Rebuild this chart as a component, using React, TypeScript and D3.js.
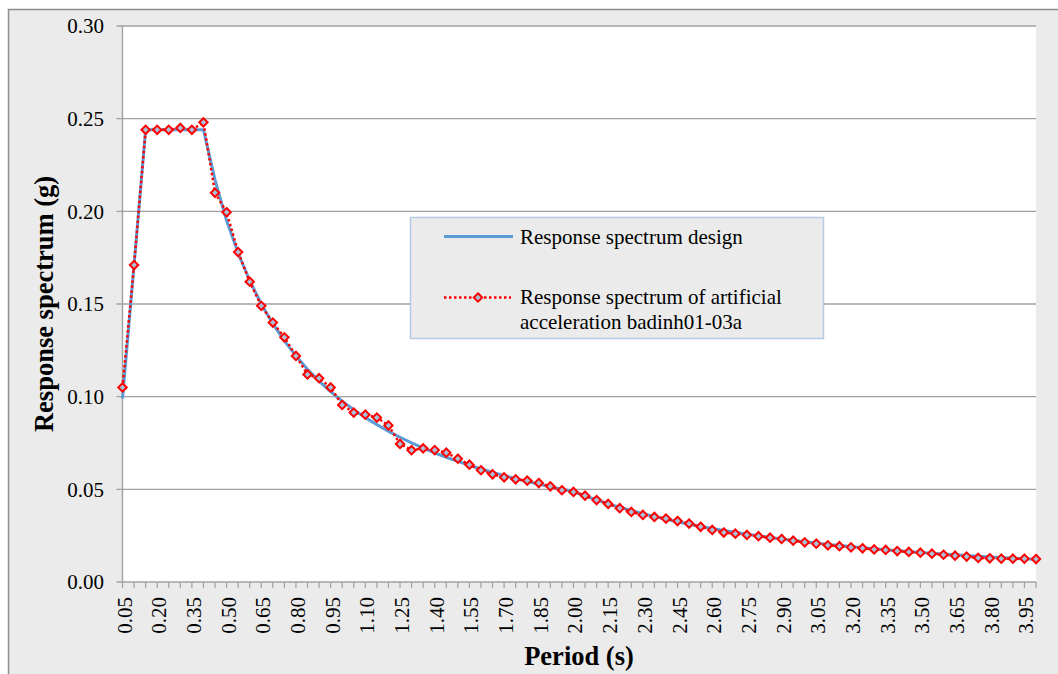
import React from "react";
import * as d3 from "d3";

const periods: string[] = [
  "0.05","0.10","0.15","0.20","0.25","0.30","0.35","0.40","0.45","0.50",
  "0.55","0.60","0.65","0.70","0.75","0.80","0.85","0.90","0.95","1.00",
  "1.05","1.10","1.15","1.20","1.25","1.30","1.35","1.40","1.45","1.50",
  "1.55","1.60","1.65","1.70","1.75","1.80","1.85","1.90","1.95","2.00",
  "2.05","2.10","2.15","2.20","2.25","2.30","2.35","2.40","2.45","2.50",
  "2.55","2.60","2.65","2.70","2.75","2.80","2.85","2.90","2.95","3.00",
  "3.05","3.10","3.15","3.20","3.25","3.30","3.35","3.40","3.45","3.50",
  "3.55","3.60","3.65","3.70","3.75","3.80","3.85","3.90","3.95","4.00",
];

const designSpectrum: number[] = [
  0.099, 0.171, 0.244, 0.244, 0.244, 0.244, 0.244, 0.244, 0.217, 0.195,
  0.1775, 0.1627, 0.150, 0.1394, 0.1301, 0.122, 0.1148, 0.1084, 0.1027, 0.0976,
  0.093, 0.0887, 0.0849, 0.0813, 0.0781, 0.0751, 0.0723, 0.0697, 0.0673, 0.0651,
  0.063, 0.061, 0.0592, 0.0574, 0.0558, 0.0542, 0.0528, 0.0514, 0.0501, 0.0488,
  0.0464, 0.0443, 0.0422, 0.0403, 0.0386, 0.0369, 0.0353, 0.0339, 0.0325, 0.0312,
  0.030, 0.0289, 0.0278, 0.0268, 0.0258, 0.0249, 0.024, 0.0232, 0.0224, 0.0217,
  0.021, 0.0203, 0.0197, 0.0191, 0.0185, 0.0179, 0.0174, 0.0169, 0.0164, 0.0159,
  0.0155, 0.0151, 0.0147, 0.0143, 0.0139, 0.0135, 0.0132, 0.0128, 0.0125, 0.0122,
];

const artificialSpectrum: number[] = [
  0.105, 0.171, 0.244, 0.244, 0.244, 0.245, 0.244, 0.248, 0.210, 0.1995,
  0.178, 0.162, 0.149, 0.140, 0.132, 0.122, 0.112, 0.110, 0.105, 0.0955,
  0.0914, 0.0903, 0.0887, 0.0845, 0.0745, 0.0711, 0.0721, 0.0712, 0.0698, 0.0665,
  0.0633, 0.0603, 0.0581, 0.0565, 0.0554, 0.0547, 0.0534, 0.0516, 0.0495, 0.0486,
  0.0466, 0.0442, 0.0421, 0.0398, 0.0378, 0.0362, 0.0351, 0.0342, 0.0329, 0.0315,
  0.0298, 0.0281, 0.0267, 0.0261, 0.0254, 0.0247, 0.0239, 0.0232, 0.0223, 0.0214,
  0.0207, 0.0198, 0.0193, 0.0187, 0.0182, 0.0176, 0.0173, 0.0167, 0.0162, 0.0158,
  0.0153, 0.0147, 0.0142, 0.0137, 0.013, 0.0128, 0.0126, 0.0126, 0.0126, 0.0124,
];

const yTicks: number[] = [0, 0.05, 0.1, 0.15, 0.2, 0.25, 0.3];
const seriesNames: string[] = [
  "Response spectrum design",
  "Response spectrum of artificial",
  "acceleration badinh01-03a",
];
const xTitle = "Period (s)";
const yTitle = "Response spectrum (g)";

const FONT = "serif";

export default function App() {
  const W = 1058, H = 674;
  const left = 122.5, right = 1036, top = 26, bottom = 582;
  const x = d3.scalePoint<string>().domain(periods).range([left, right]).padding(0);
  const y = d3.scaleLinear().domain([0, 0.3]).range([bottom, top]);

  const line = d3
    .line<number>()
    .x((_, i) => x(periods[i]) as number)
    .y((d) => y(d));

  const diamond = (cx: number, cy: number, r: number) =>
    `M${cx},${cy - r}L${cx + r},${cy}L${cx},${cy + r}L${cx - r},${cy}Z`;

  const gridColor = "#A0A0A0";
  const textStyle = { fontFamily: FONT, fontSize: "21px", fontWeight: 400 } as React.CSSProperties;
  const titleStyle = { fontFamily: FONT, fontSize: "26.5px", fontWeight: 700 } as React.CSSProperties;

  return (
    <svg
      width={W}
      height={H}
      style={{ position: "absolute", left: 0, top: 0, display: "block" }}
    >
      <rect x={0} y={0} width={W} height={H} fill="#ffffff" />
      <rect
        x={8.5}
        y={9.5}
        width={1200}
        height={800}
        fill="#EBEBEB"
        stroke="#8E8E8E"
        strokeWidth={1.5}
      />
      <rect x={left} y={top} width={right - left} height={bottom - top} fill="#ffffff" />

      {yTicks.map((t) => (
        <g key={t}>
          <line
            x1={left - 6}
            x2={right}
            y1={y(t)}
            y2={y(t)}
            stroke={gridColor}
            strokeWidth={1.4}
          />
          <text x={104} y={y(t)} dy="0.35em" textAnchor="end" style={textStyle} fill="#000">
            {t.toFixed(2)}
          </text>
        </g>
      ))}
      <line x1={left} x2={left} y1={top} y2={bottom} stroke={gridColor} strokeWidth={1.4} />
      {periods.map((p) => (
        <line
          key={p}
          x1={x(p)}
          x2={x(p)}
          y1={bottom}
          y2={bottom + 6}
          stroke={gridColor}
          strokeWidth={1.2}
        />
      ))}
      {periods
        .filter((_, i) => i % 3 === 0)
        .map((p) => (
          <text
            key={"l" + p}
            transform={`translate(${(x(p) as number) + 9},597) rotate(-90)`}
            textAnchor="end"
            style={textStyle}
            fill="#000"
          >
            {p}
          </text>
        ))}

      <path
        d={line(designSpectrum) || ""}
        fill="none"
        stroke="#5B9BD5"
        strokeWidth={3}
        strokeLinejoin="round"
      />
      <path
        d={line(artificialSpectrum) || ""}
        fill="none"
        stroke="#FF0000"
        strokeWidth={2.5}
        strokeDasharray="2.5,2.5"
      />
      {artificialSpectrum.map((v, i) => (
        <path
          key={"m" + i}
          d={diamond(x(periods[i]) as number, y(v), 4.2)}
          fill="#A9C0DA"
          stroke="#FF0000"
          strokeWidth={2}
        />
      ))}

      <text x={579} y={665} textAnchor="middle" style={titleStyle} fill="#000">
        {xTitle}
      </text>
      <text
        transform={`translate(53,304) rotate(-90)`}
        textAnchor="middle"
        style={titleStyle}
        fill="#000"
      >
        {yTitle}
      </text>

      <rect
        x={410.5}
        y={217.5}
        width={413}
        height={121}
        fill="#EBEBEB"
        stroke="#B4CBE4"
        strokeWidth={1.5}
      />
      <line x1={444} x2={513} y1={236.5} y2={236.5} stroke="#5B9BD5" strokeWidth={3} />
      <text x={520} y={243.5} style={textStyle} fill="#000">
        {seriesNames[0]}
      </text>
      <line
        x1={444}
        x2={511}
        y1={297.5}
        y2={297.5}
        stroke="#FF0000"
        strokeWidth={2.5}
        strokeDasharray="2.5,2.5"
      />
      <path d={diamond(478, 297.5, 4.2)} fill="#A9C0DA" stroke="#FF0000" strokeWidth={2} />
      <text x={520} y={304} style={textStyle} fill="#000">
        {seriesNames[1]}
      </text>
      <text x={520} y={328.5} style={textStyle} fill="#000">
        {seriesNames[2]}
      </text>
    </svg>
  );
}
